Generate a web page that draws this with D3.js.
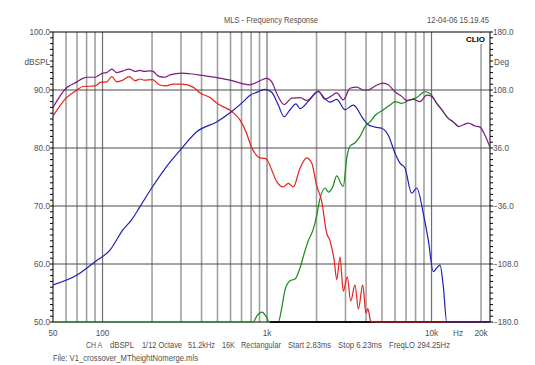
<!DOCTYPE html>
<html>
<head>
<meta charset="utf-8">
<script src="https://cdn.jsdelivr.net/npm/d3@7"></script>
<style>
body { margin: 0; background: #fff; }
text { font-family: "Liberation Sans", Arial, sans-serif; font-size: 8.2px; fill: #505050; }
</style>
</head>
<body>
<div id="chart"></div>
<script>
const w = 535;
const h = 365;

// data: [frequency Hz, dBSPL]
const redPts = [[50,85.5],[60,88.6],[70,90.0],[76,90.6],[90,90.7],[97,91.3],[106,91.4],[114,92.3],[122,91.4],[133,91.7],[145,92.3],[158,91.6],[169,91.9],[179,91.7],[202,91.8],[218,91.0],[240,90.7],[268,91.0],[304,91.0],[355,90.5],[392,89.5],[450,88.7],[504,87.6],[610,86.3],[686,84.8],[752,82.5],[800,80.3],[866,78.7],[907,78.3],[973,78.2],[1010,77.8],[1068,76.2],[1146,74.2],[1256,73.3],[1347,73.9],[1445,73.3],[1587,76.5],[1742,78.3],[1869,77.4],[2004,73.5],[2150,70.8],[2306,65.3],[2415,64.0],[2564,60.5],[2652,57.3],[2778,61.2],[2909,55.3],[3076,57.8],[3226,53.6],[3427,56.4],[3589,52.2],[3817,56.4],[3997,51.5],[4100,52.3],[4250,50.3],[4329,50],[22670,50]];

const bluePts = [[50,56.4],[70,58.1],[90,60.4],[111,62.4],[133,65.9],[150,67.6],[169,69.9],[199,73.1],[245,76.8],[300,79.8],[374,82.8],[494,84.5],[610,86.3],[718,88.0],[788,89.1],[866,89.6],[973,90.1],[1068,89.6],[1171,87.4],[1269,85.4],[1380,86.6],[1500,87.6],[1587,86.8],[1825,88.4],[2050,89.7],[2252,88.5],[2415,87.9],[2652,88.4],[2979,86.6],[3346,87.4],[3849,85.0],[4127,84.0],[4533,83.6],[4979,83.4],[5461,82.2],[5998,79.1],[6433,77.4],[6900,76.5],[7576,72.2],[8127,73.1],[8914,68.7],[9560,64.1],[10253,58.7],[10753,59.3],[11262,59.8],[11795,56.1],[12372,50],[22670,50]];

const greenPts = [[50,50],[825,50],[866,51.0],[932,51.7],[985,51.0],[1033,50],[1171,50],[1228,52.4],[1286,55.5],[1380,57.1],[1480,57.4],[1587,59.3],[1662,61.3],[1782,64.0],[1911,66.0],[2004,68.3],[2100,71.3],[2252,73.1],[2358,72.4],[2507,73.3],[2652,75.2],[2845,73.6],[2909,73.4],[3050,78.2],[3195,80.3],[3427,80.9],[3676,82.0],[3942,83.7],[4227,84.5],[4533,85.6],[5091,86.6],[5595,87.4],[5998,88.0],[6590,87.7],[7226,88.2],[8127,88.7],[9128,89.7],[9791,89.4],[10753,87.7],[11534,86.6],[12647,85.1],[13563,84.5],[14545,83.7]];

const purplePts = [[50,87.0],[60,90.3],[70,91.4],[76,92.0],[80,92.2],[90,92.2],[97,92.7],[100,92.9],[106,93.0],[114,93.6],[122,93.0],[130,93.2],[145,93.6],[158,93.2],[169,93.4],[179,93.2],[194,93.3],[202,93.25],[218,92.4],[240,92.2],[257,92.6],[304,92.9],[340,92.8],[408,92.5],[504,92.1],[595,91.7],[788,90.9],[907,91.6],[996,92.0],[1068,91.4],[1146,89.4],[1269,87.5],[1413,88.6],[1587,88.7],[1742,88.2],[2050,89.8],[2252,88.4],[2438,88.9],[2652,89.5],[2909,88.3],[3195,90.3],[3510,90.5],[3849,90.0],[4127,90.0],[4533,90.7],[5091,91.2],[5461,90.9],[5998,89.7],[6590,88.9],[7067,88.2],[7751,88.4],[8511,88.0],[9350,89.1],[10027,88.9],[10753,87.7],[11534,86.6],[12647,85.1],[13563,84.5],[14545,83.7],[15600,84.0],[16729,84.3],[18380,83.8],[19710,83.6],[21138,82.2],[22670,80.1]];

// black floor segment seen on the bottom edge
const floorPts = [[1040,50],[22670,50]];

// grid and ticks
const gridFreqs = [60,70,80,90,100,200,300,400,500,600,700,800,900,1000,2000,3000,4000,5000,6000,7000,8000,9000,10000,20000];
const xTickVals = [50,100,1000,10000,20000];
const xTickLabels = ["50","100","1k","10k","20k"];
const dbTicks = [50,60,70,80,90,100];
const degTicks = [-180,-108,-36,36,108,180];
// [text, left x, width] of the measurement info line
const infoItems = [["CH A",86,16],["dBSPL",110,24],["1/12 Octave",142,40],["51.2kHz",188,27],["16K",222,13],["Rectangular",241,40],["Start 2.83ms",288,43],["Stop 6.23ms",338,44],["FreqLO 294.25Hz",389,61]];

const svg = d3.select("#chart")
    .append("svg")
    .attr("width", w)
    .attr("height", h);

const x = d3.scaleLog().domain([50, 22670]).range([53, 490]);
const y = d3.scaleLinear().domain([50, 100]).range([322, 32]);
const yDeg = d3.scaleLinear().domain([-180, 180]).range([322, 32]);

svg.append("defs").append("clipPath").attr("id", "plot")
    .append("rect")
    .attr("x", 53).attr("y", 31)
    .attr("width", 437).attr("height", 292);

// vertical grid
svg.selectAll(".vgrid")
    .data(gridFreqs)
    .enter()
    .append("line")
    .attr("class", "vgrid")
    .attr("x1", d => x(d)).attr("x2", d => x(d))
    .attr("y1", 32).attr("y2", 322)
    .attr("stroke", d => [100,1000,10000].includes(d) ? "#707070" : "#a0a0a0")
    .attr("stroke-width", d => [100,1000,10000].includes(d) ? 1.2 : 1.6);

// horizontal grid
svg.selectAll(".hgrid")
    .data(dbTicks.slice(1, -1))
    .enter()
    .append("line")
    .attr("class", "hgrid")
    .attr("x1", 53).attr("x2", 490)
    .attr("y1", d => y(d)).attr("y2", d => y(d))
    .attr("stroke", "#4a4a4a")
    .attr("stroke-width", 1);

// left minor ticks
svg.selectAll(".ltick")
    .data(d3.range(50, 101, 1))
    .enter()
    .append("line")
    .attr("x1", 50).attr("x2", 53)
    .attr("y1", d => y(d)).attr("y2", d => y(d))
    .attr("stroke", "#000");

// right minor ticks
svg.selectAll(".rtick")
    .data(d3.range(0, 51, 1))
    .enter()
    .append("line")
    .attr("x1", 490).attr("x2", 493)
    .attr("y1", d => yDeg(-180 + d * 7.2)).attr("y2", d => yDeg(-180 + d * 7.2))
    .attr("stroke", "#000");

// border
svg.append("rect")
    .attr("x", 53).attr("y", 32)
    .attr("width", 437).attr("height", 290)
    .attr("fill", "none")
    .attr("stroke", "#000")
    .attr("stroke-width", 1);

// CLIO badge
svg.append("rect")
    .attr("x", 464).attr("y", 33)
    .attr("width", 23).attr("height", 11)
    .attr("fill", "#fff");
svg.append("text")
    .attr("x", 485).attr("y", 42)
    .attr("text-anchor", "end")
    .style("font-weight", "bold")
    .style("fill", "#000")
    .style("font-size", "8px")
    .text("CLIO");

const line = d3.line()
    .x(d => x(d[0]))
    .y(d => y(d[1]))
    .curve(d3.curveMonotoneX);

const curves = svg.append("g").attr("clip-path", "url(#plot)");

function drawCurve(pts, color, width) {
    curves.append("path")
        .datum(pts)
        .attr("d", line)
        .attr("fill", "none")
        .attr("stroke", color)
        .attr("stroke-width", width);
}

drawCurve(greenPts, "#1a8a1a", 1.2);
drawCurve(floorPts, "#111", 2);
drawCurve(redPts, "#e8211d", 1.2);
drawCurve(bluePts, "#1c22b4", 1.2);
drawCurve(purplePts, "#7d1c80", 1.2);

// left labels
svg.selectAll(".llab")
    .data(dbTicks)
    .enter()
    .append("text")
    .attr("x", 50)
    .attr("y", d => y(d) + 3)
    .attr("text-anchor", "end")
    .text(d => d3.format(".1f")(d));

svg.append("text").attr("x", 50).attr("y", 65).attr("text-anchor", "end").text("dBSPL");
svg.append("text").attr("x", 494).attr("y", 65).text("Deg");

// right labels
svg.selectAll(".rlab")
    .data(degTicks)
    .enter()
    .append("text")
    .attr("x", 493)
    .attr("y", d => yDeg(d) + 3)
    .text(d => d3.format(".1f")(d));

// bottom labels
svg.selectAll(".blab")
    .data(xTickVals)
    .enter()
    .append("text")
    .attr("x", d => x(d))
    .attr("y", 336)
    .attr("text-anchor", "middle")
    .text((d, i) => xTickLabels[i]);

svg.append("text").attr("x", x(14500)).attr("y", 336).attr("text-anchor", "middle").text("Hz");

svg.selectAll(".info")
    .data(infoItems)
    .enter()
    .append("text")
    .attr("x", d => d[1])
    .attr("y", 348)
    .attr("textLength", d => d[2])
    .attr("lengthAdjust", "spacingAndGlyphs")
    .text(d => d[0]);

svg.append("text").attr("x", 53).attr("y", 361)
    .attr("textLength", 145).attr("lengthAdjust", "spacingAndGlyphs")
    .text("File: V1_crossover_MTheightNomerge.mls");

// title
svg.append("text").attr("x", 224).attr("y", 23)
    .attr("textLength", 94).attr("lengthAdjust", "spacingAndGlyphs")
    .text("MLS - Frequency Response");
svg.append("text").attr("x", 427).attr("y", 23)
    .attr("textLength", 62).attr("lengthAdjust", "spacingAndGlyphs")
    .text("12-04-06 15.19.45");
</script>
</body>
</html>
